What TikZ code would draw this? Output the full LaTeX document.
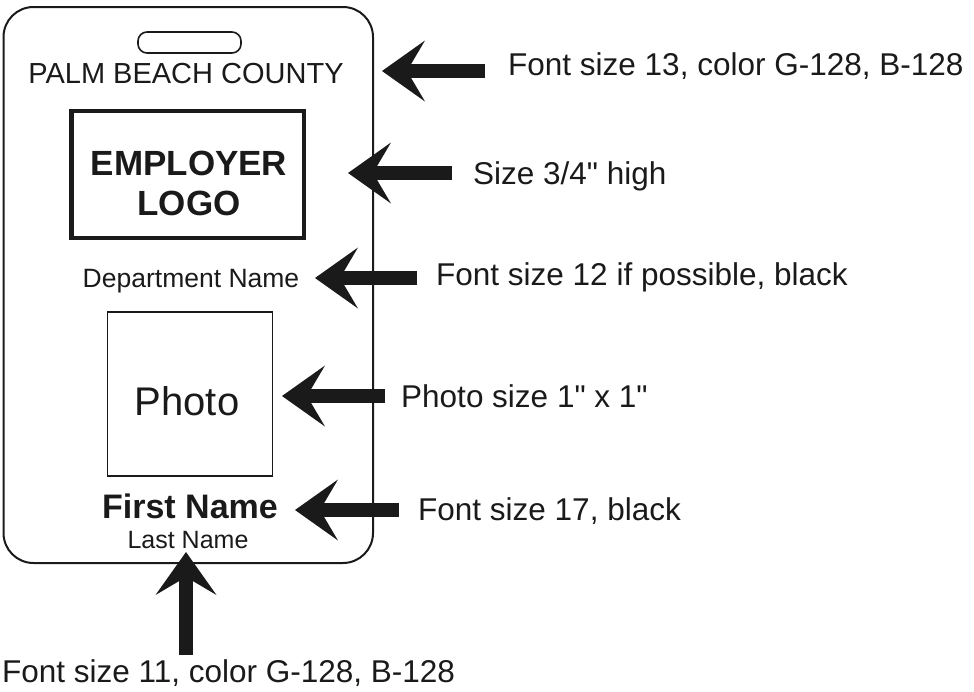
\documentclass[tikz,border=0pt]{standalone}
\usepackage{fontspec}
\setmainfont{Liberation Sans}
\usetikzlibrary{arrows.meta}
\definecolor{ink}{HTML}{1A1A1A}
% straight inch mark, set as a glyph so the TeX quote mapping leaves it alone
\newcommand\inchmark{\XeTeXglyph\XeTeXcharglyph"22\relax}
\tikzset{
  outline/.style={draw=ink, line width=2pt},
  cardtext/.style={inner sep=0pt, anchor=base, text=ink},
  notetext/.style={inner sep=0pt, anchor=base west, text=ink, font=\fontsize{31.5}{31.5}\selectfont},
  pointer/.style={draw=ink, line width=14pt,
    -{Stealth[length=43pt, width=61pt, inset=18pt, line width=0pt]}},
}
\begin{document}
\begin{tikzpicture}[x=1pt, y=-1pt]
  \useasboundingbox (0,0) rectangle (974,691);

  % badge outline and lanyard slot
  \draw[outline, rounded corners=30pt] (3.5,7) rectangle (373,563);
  \draw[outline, line width=1.6pt, rounded corners=9pt] (138,32) rectangle (241,53);

  % badge contents
  \node[cardtext, font=\fontsize{29}{29}\selectfont] (county) at (186,83) {PALM BEACH COUNTY};
  \draw[draw=ink, line width=4.5pt] (71.5,111) rectangle (304,238);
  \node[cardtext, font=\bfseries\fontsize{35}{35}\selectfont] (employer) at (189,175) {EMPLOYER};
  \node[cardtext, font=\bfseries\fontsize{35}{35}\selectfont] (logo) at (189,215) {LOGO};
  \node[cardtext, font=\fontsize{26.5}{26.5}\selectfont] (dept) at (191,287) {Department Name};
  \draw[draw=ink, line width=1.6pt] (107.5,312) rectangle (272.5,476);
  \node[cardtext, font=\fontsize{40}{40}\selectfont] (photo) at (187,415) {Photo};
  \node[cardtext, font=\bfseries\fontsize{34}{34}\selectfont] (first) at (190,518) {First Name};
  \node[cardtext, font=\fontsize{25}{25}\selectfont] (last) at (188,548) {Last Name};

  % notes
  \node[notetext] (n1) at (508,75) {Font size 13, color G-128, B-128};
  \node[notetext] (n2) at (473,184) {Size 3/4\inchmark{} high};
  \node[notetext] (n3) at (436,285) {Font size 12 if possible, black};
  \node[notetext] (n4) at (401,407) {Photo size 1\inchmark{} x 1\inchmark};
  \node[notetext] (n5) at (418,520) {Font size 17, black};
  \node[notetext] (n6) at (2,682) {Font size 11, color G-128, B-128};

  % arrow ends
  \coordinate (t1) at (485,71);  \coordinate (h1) at (382,71);
  \coordinate (t2) at (452,173); \coordinate (h2) at (348,173);
  \coordinate (t3) at (417,278); \coordinate (h3) at (315,278);
  \coordinate (t4) at (385,396); \coordinate (h4) at (282,396);
  \coordinate (t5) at (399,510); \coordinate (h5) at (295,510);
  \coordinate (t6) at (186,655); \coordinate (h6) at (186,552);

  \foreach \i in {1,...,6} {
    \draw[pointer] (t\i) -- (h\i);
  }
\end{tikzpicture}
\end{document}
